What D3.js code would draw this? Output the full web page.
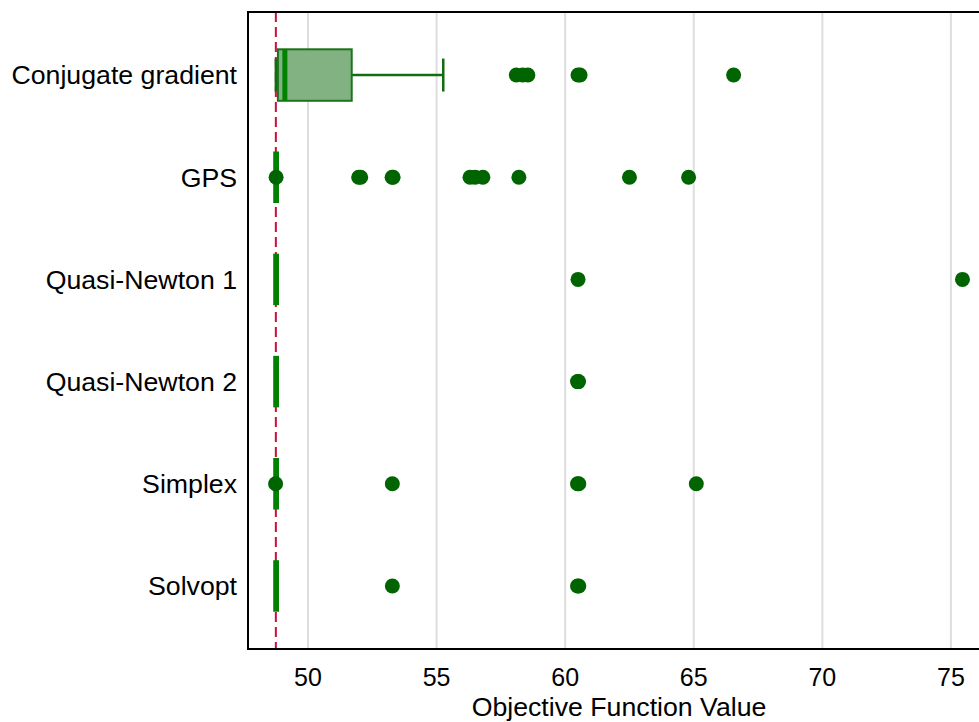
<!DOCTYPE html>
<html>
<head>
<meta charset="utf-8">
<script src="https://cdn.jsdelivr.net/npm/d3@7"></script>
<style>
  body { margin: 0; background: #fff; }
  text { font-family: "Liberation Sans", Arial, Helvetica, sans-serif; fill: #000; }
</style>
</head>
<body>
<div id="chart"></div>
<script>
// methods (top to bottom)
var methods = ["Conjugate gradient", "GPS", "Quasi-Newton 1", "Quasi-Newton 2", "Simplex", "Solvopt"];

// box statistics per method
var whiskLo = [48.75, 48.75, 48.75, 48.75, 48.75, 48.75];
var q1      = [48.83, 48.75, 48.75, 48.75, 48.75, 48.75];
var median  = [49.10, 48.76, 48.76, 48.76, 48.76, 48.76];
var q3      = [51.70, 48.76, 48.76, 48.76, 48.76, 48.76];
var whiskHi = [55.26, 48.76, 48.76, 48.76, 48.76, 48.76];

// outside values per method
var outliers = [
  [58.1, 58.35, 58.55, 60.5, 60.58, 66.55],
  [48.76, 51.97, 52.05, 53.27, 53.31, 56.3, 56.5, 56.8, 58.2, 62.5, 64.8],
  [60.5, 75.45],
  [60.48, 60.52],
  [48.74, 53.28, 60.48, 60.53, 65.1],
  [53.28, 60.48, 60.53]
];

var refValue = 48.75;   // dashed reference line
var xTicks = [50, 55, 60, 65, 70, 75];

// set the dimensions of the graph
var width = 979, height = 722;
var plot = { left: 248, right: 990, top: 12, bottom: 649 };

var x = d3.scaleLinear().domain([47.667, 76.52]).range([plot.left, plot.right]);
var y = d3.scalePoint().domain(methods).range([plot.top, plot.bottom]).padding(0.617);

var svg = d3.select("#chart").append("svg")
  .attr("width", width)
  .attr("height", height);

svg.append("rect").attr("width", width).attr("height", height).attr("fill", "#fff");

// gridlines
svg.append("g").selectAll("line")
  .data(xTicks)
  .enter().append("line")
  .attr("x1", function (d) { return x(d); })
  .attr("x2", function (d) { return x(d); })
  .attr("y1", plot.top)
  .attr("y2", plot.bottom)
  .attr("stroke", "#dedede")
  .attr("stroke-width", 2);

// reference line
svg.append("line")
  .attr("x1", x(refValue)).attr("x2", x(refValue))
  .attr("y1", plot.top).attr("y2", plot.bottom)
  .attr("stroke", "#c8103c")
  .attr("stroke-width", 2)
  .attr("stroke-dasharray", "10,5");

var boxH = 51.5, capH = 33;
var stats = methods.map(function (m, i) {
  return { m: m, lo: whiskLo[i], q1: q1[i], med: median[i], q3: q3[i], hi: whiskHi[i], out: outliers[i] };
});

var boxes = svg.append("g").selectAll("g")
  .data(stats)
  .enter().append("g");

// whiskers
boxes.append("line")
  .attr("x1", function (d) { return x(d.lo); })
  .attr("x2", function (d) { return x(d.q1); })
  .attr("y1", function (d) { return y(d.m); })
  .attr("y2", function (d) { return y(d.m); })
  .attr("stroke", "#106e10").attr("stroke-width", 2.5);
boxes.append("line")
  .attr("x1", function (d) { return x(d.q3); })
  .attr("x2", function (d) { return x(d.hi); })
  .attr("y1", function (d) { return y(d.m); })
  .attr("y2", function (d) { return y(d.m); })
  .attr("stroke", "#106e10").attr("stroke-width", 2.5);
boxes.filter(function (d) { return d.hi - d.lo > 0.05; }).each(function (d) {
  var g = d3.select(this);
  [d.lo, d.hi].forEach(function (v) {
    g.append("line")
      .attr("x1", x(v)).attr("x2", x(v))
      .attr("y1", y(d.m) - capH / 2).attr("y2", y(d.m) + capH / 2)
      .attr("stroke", "#106e10").attr("stroke-width", 2.5);
  });
});

// boxes
boxes.filter(function (d) { return d.q3 - d.q1 > 0.05; })
  .append("rect")
  .attr("x", function (d) { return x(d.q1); })
  .attr("width", function (d) { return x(d.q3) - x(d.q1); })
  .attr("y", function (d) { return y(d.m) - boxH / 2; })
  .attr("height", boxH)
  .attr("fill", "#82b282")
  .attr("stroke", "#1d741d")
  .attr("stroke-width", 2);

// medians
boxes.append("line")
  .attr("x1", function (d) { return x(d.med); })
  .attr("x2", function (d) { return x(d.med); })
  .attr("y1", function (d) { return y(d.m) - boxH / 2; })
  .attr("y2", function (d) { return y(d.m) + boxH / 2; })
  .attr("stroke", "#008200")
  .attr("stroke-width", function (d) { return d.q3 - d.q1 > 0.05 ? 5 : 5.8; });

// outside values
boxes.each(function (d) {
  d3.select(this).selectAll("circle")
    .data(d.out)
    .enter().append("circle")
    .attr("cx", function (v) { return x(v); })
    .attr("cy", y(d.m))
    .attr("r", 7.5)
    .attr("fill", "#006400");
});

// frame
svg.append("line")
  .attr("x1", plot.left).attr("x2", width)
  .attr("y1", plot.top).attr("y2", plot.top)
  .attr("stroke", "#000").attr("stroke-width", 2);
svg.append("line")
  .attr("x1", plot.left).attr("x2", plot.left)
  .attr("y1", plot.top - 1).attr("y2", plot.bottom + 1)
  .attr("stroke", "#000").attr("stroke-width", 2);
svg.append("line")
  .attr("x1", plot.left - 1).attr("x2", width)
  .attr("y1", plot.bottom).attr("y2", plot.bottom)
  .attr("stroke", "#000").attr("stroke-width", 2);

// x tick labels
svg.append("g").selectAll("text")
  .data(xTicks)
  .enter().append("text")
  .attr("x", function (d) { return x(d); })
  .attr("y", 686)
  .attr("text-anchor", "middle")
  .style("font-size", "25px")
  .text(function (d) { return d; });

// y labels
svg.append("g").selectAll("text")
  .data(methods)
  .enter().append("text")
  .attr("x", plot.left - 11)
  .attr("y", function (d) { return y(d); })
  .attr("dy", "0.35em")
  .attr("text-anchor", "end")
  .style("font-size", "26.7px")
  .text(function (d) { return d; });

// x axis title
svg.append("text")
  .attr("x", 619)
  .attr("y", 716)
  .attr("text-anchor", "middle")
  .style("font-size", "26.7px")
  .text("Objective Function Value");
</script>
</body>
</html>
